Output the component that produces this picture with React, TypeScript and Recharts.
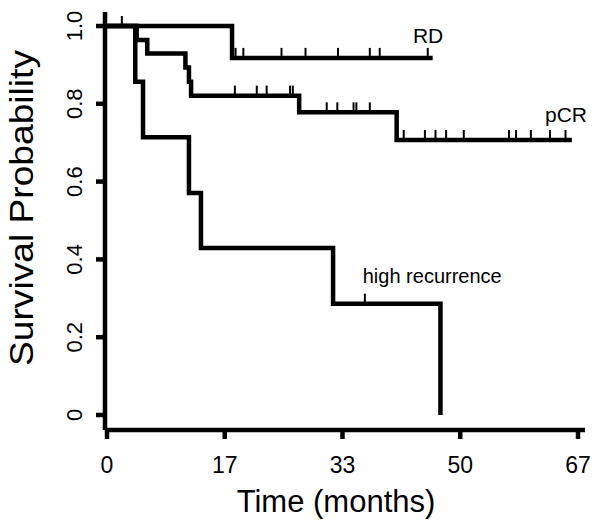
import React from "react";
import { LineChart, Line, XAxis, YAxis, ReferenceDot } from "recharts";

// ---- data (months, survival probability) ----
const rdTimes = [0, 17.7, 46.1];
const rdSurv = [1, 0.918, 0.918];
const rdCensor = [2.1, 18.2, 19.3, 24.7, 28.1, 32.7, 37.2, 38.6, 45.4];

const pcrTimes = [0, 4.2, 5.7, 11.1, 11.6, 11.9, 27.2, 41.0, 65.8];
const pcrSurv = [1, 0.964, 0.929, 0.893, 0.857, 0.821, 0.778, 0.707, 0.707];
const pcrCensor = [
  18.1, 21.2, 22.6, 25.9, 26.3, 31.1, 32.6, 34.9, 35.3, 37.2,
  42.0, 45.0, 46.5, 48.0, 50.5, 56.9, 57.9, 60.0, 62.7, 64.9,
];

const hrTimes = [0, 4.0, 5.1, 11.6, 13.3, 32.0, 47.2];
const hrSurv = [1, 0.857, 0.714, 0.571, 0.429, 0.286, 0];
const hrCensor = [36.5];

const xTicks = [0, 16.67, 33.33, 50, 66.67];
const xTickLabels = ["0", "17", "33", "50", "67"];
const yTicks = [0, 0.2, 0.4, 0.6, 0.8, 1.0];
const yTickLabels = ["0", "0.2", "0.4", "0.6", "0.8", "1.0"];

const seriesLabels = ["RD", "pCR", "high recurrence"];

// ---- helpers ----
const toPoints = (times: number[], surv: number[]) =>
  times.map((t, i) => ({ t, s: surv[i] }));

const survAt = (times: number[], surv: number[], t: number) => {
  let v = surv[0];
  for (let i = 0; i < times.length; i++) if (times[i] <= t) v = surv[i];
  return v;
};

const censorPoints = (times: number[], surv: number[], cens: number[]) =>
  cens.map((t) => ({ t, s: survAt(times, surv, t) }));

const rdData = toPoints(rdTimes, rdSurv);
const pcrData = toPoints(pcrTimes, pcrSurv);
const hrData = toPoints(hrTimes, hrSurv);
const rdCens = censorPoints(rdTimes, rdSurv, rdCensor);
const pcrCens = censorPoints(pcrTimes, pcrSurv, pcrCensor);
const hrCens = censorPoints(hrTimes, hrSurv, hrCensor);

const FONT = "'Liberation Sans', Arial, Helvetica, sans-serif";

const CensorTick = (props: any) => {
  const { cx, cy, index } = props;
  if (cx == null || cy == null) return <g key={index} />;
  return (
    <line
      key={index}
      x1={cx}
      x2={cx}
      y1={cy}
      y2={cy - 10}
      stroke="#000"
      strokeWidth={2}
    />
  );
};

const XTick = (props: any) => {
  const { x, y, index } = props;
  return (
    <text
      x={x}
      y={y + 34}
      textAnchor="middle"
      fontFamily={FONT}
      fontSize={23}
      fill="#000"
    >
      {xTickLabels[index]}
    </text>
  );
};

const YTick = (props: any) => {
  const { x, y, index } = props;
  const bx = x - 14;
  return (
    <text
      x={bx}
      y={y}
      textAnchor="middle"
      transform={`rotate(-90, ${bx}, ${y})`}
      fontFamily={FONT}
      fontSize={22}
      fill="#000"
    >
      {yTickLabels[index]}
    </text>
  );
};

const makeLabel = (text: string, size: number) => (props: any) => (
  <text
    x={props.cx}
    y={props.cy}
    textAnchor="start"
    fontFamily={FONT}
    fontSize={size}
    fill="#000"
  >
    {text}
  </text>
);

export default function App() {
  return (
    <div style={{ position: "absolute", left: 0, top: 0, background: "#fff" }}>
      <LineChart
        width={602}
        height={528}
        margin={{ top: 12, right: 17, left: 45, bottom: 0 }}
      >
        <XAxis
          type="number"
          dataKey="t"
          domain={[-0.283, 67.66]}
          allowDataOverflow
          ticks={xTicks}
          interval={0}
          height={98}
          tickSize={9}
          tickMargin={0}
          axisLine={{ stroke: "#000", strokeWidth: 4.5 }}
          tickLine={{ stroke: "#000", strokeWidth: 4.5 }}
          tick={<XTick />}
          label={{
            content: (p: any) => (
              <text
                x={p.viewBox.x + p.viewBox.width / 2 - 9}
                y={p.viewBox.y + 82}
                textAnchor="middle"
                fontFamily={FONT}
                fontSize={31}
                fill="#000"
              >
                Time (months)
              </text>
            ),
          }}
        />
        <YAxis
          type="number"
          dataKey="s"
          domain={[-0.0386, 1.036]}
          allowDataOverflow
          ticks={yTicks}
          interval={0}
          width={60}
          tickSize={9}
          tickMargin={0}
          axisLine={{ stroke: "#000", strokeWidth: 4.5 }}
          tickLine={{ stroke: "#000", strokeWidth: 4.5 }}
          tick={<YTick />}
          label={{
            content: () => (
              <text
                x={33}
                y={208}
                textAnchor="middle"
                transform="rotate(-90, 33, 208)"
                fontFamily={FONT}
                fontSize={33}
                textLength={316}
                lengthAdjust="spacingAndGlyphs"
                fill="#000"
              >
                Survival Probability
              </text>
            ),
          }}
        />
        <Line
          data={hrData}
          dataKey="s"
          type="stepAfter"
          stroke="#000"
          strokeWidth={4.5}
          dot={false}
          isAnimationActive={false}
        />
        <Line
          data={pcrData}
          dataKey="s"
          type="stepAfter"
          stroke="#000"
          strokeWidth={4.5}
          dot={false}
          isAnimationActive={false}
        />
        <Line
          data={rdData}
          dataKey="s"
          type="stepAfter"
          stroke="#000"
          strokeWidth={4.5}
          dot={false}
          isAnimationActive={false}
        />
        <Line
          data={rdCens}
          dataKey="s"
          stroke="none"
          dot={<CensorTick />}
          isAnimationActive={false}
        />
        <Line
          data={pcrCens}
          dataKey="s"
          stroke="none"
          dot={<CensorTick />}
          isAnimationActive={false}
        />
        <Line
          data={hrCens}
          dataKey="s"
          stroke="none"
          dot={<CensorTick />}
          isAnimationActive={false}
        />
        <ReferenceDot x={43.3} y={0.956} r={0} shape={makeLabel(seriesLabels[0], 21)} />
        <ReferenceDot x={62.0} y={0.753} r={0} shape={makeLabel(seriesLabels[1], 21)} />
        <ReferenceDot x={36.2} y={0.339} r={0} shape={makeLabel(seriesLabels[2], 20)} />
      </LineChart>
    </div>
  );
}
